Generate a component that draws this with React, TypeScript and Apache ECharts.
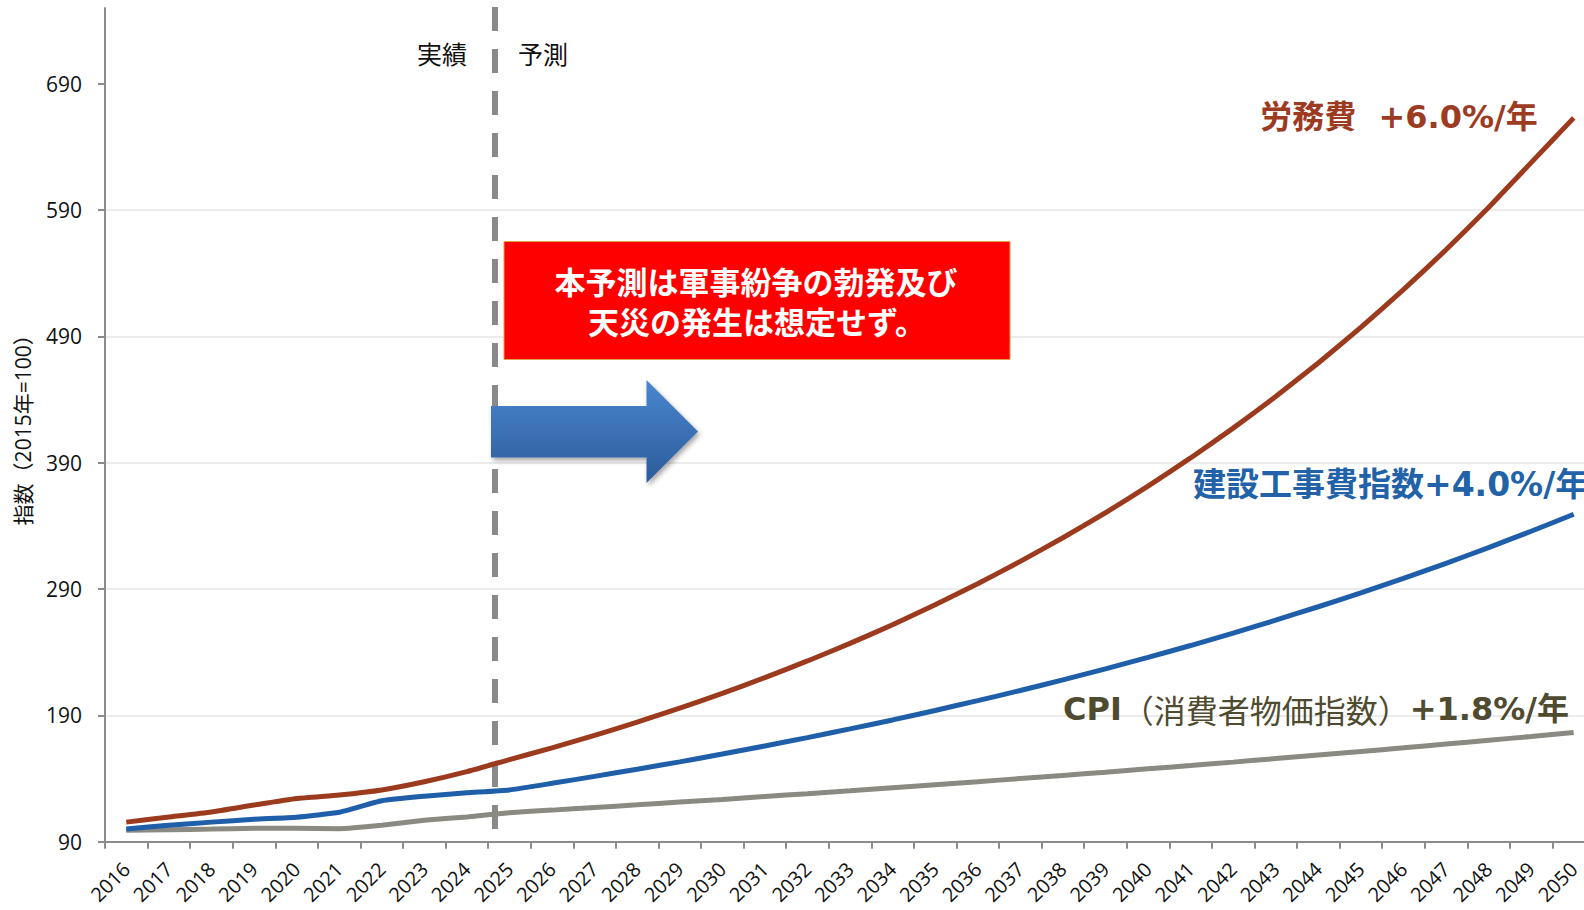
import React, { useEffect, useRef } from "react";
import * as echarts from "echarts";

const years = [
  "2016", "2017", "2018", "2019", "2020", "2021", "2022", "2023", "2024", "2025",
  "2026", "2027", "2028", "2029", "2030", "2031", "2032", "2033", "2034", "2035",
  "2036", "2037", "2038", "2039", "2040", "2041", "2042", "2043", "2044", "2045",
  "2046", "2047", "2048", "2049", "2050",
];

// 労務費 (+6.0%/年)
const laborCost = [
  105.5, 109.5, 113.5, 119, 124.2, 127, 131, 137.5, 145.5, 155,
  164.3, 174.2, 184.6, 195.7, 207.4, 219.9, 233.1, 247.0, 261.8, 277.6,
  294.2, 311.9, 330.6, 350.4, 371.5, 393.8, 417.4, 442.4, 469.0, 497.1,
  527.0, 558.6, 592.1, 627.6, 663.0,
];

// 建設工事費指数 (+4.0%/年)
const constructionCost = [
  100, 103, 105.5, 107.8, 109.4, 113.3, 122.4, 126, 128.7, 131,
  136.2, 141.7, 147.4, 153.2, 159.4, 165.8, 172.4, 179.3, 186.4, 193.9,
  201.7, 209.7, 218.1, 226.8, 235.9, 245.3, 255.1, 265.4, 276.0, 287.0,
  298.5, 310.4, 322.8, 335.8, 349.2,
];

// CPI (+1.8%/年)
const cpi = [
  99, 99.5, 100, 100.6, 100.6, 100.3, 103, 107, 109.6, 113,
  115.0, 117.1, 119.2, 121.4, 123.5, 125.8, 128.0, 130.3, 132.7, 135.1,
  137.5, 140.0, 142.5, 145.0, 147.7, 150.3, 153.0, 155.8, 158.6, 161.4,
  164.3, 167.3, 170.3, 173.3, 176.5,
];

const yTicks = [90, 190, 290, 390, 490, 590, 690];

const AX = "#8c8c8c";
const LAT = "'Open Sans', 'Noto Sans CJK JP', sans-serif";
const LBL = "'DejaVu Sans', 'Noto Sans CJK JP', sans-serif";
const CJK = "'Noto Sans CJK JP', sans-serif";

export default function App() {
  const ref = useRef<HTMLDivElement>(null);

  useEffect(() => {
    if (!ref.current) return;
    const chart = echarts.init(ref.current, null, { renderer: "svg" });
    const line = (name: string, data: number[], color: string, z: number) => ({
      name,
      type: "line",
      data,
      symbol: "none",
      smooth: 0.15,
      z,
      lineStyle: { color, width: 5 },
      itemStyle: { color },
    });
    const centered = (text: string, x: number, y: number, font: string, fill: string) => ({
      type: "text",
      z: 11,
      style: {
        text,
        x,
        y,
        textAlign: "center",
        textVerticalAlign: "middle",
        align: "center",
        verticalAlign: "middle",
        fill,
        font,
      },
    });
    chart.setOption({
      animation: false,
      backgroundColor: "#ffffff",
      grid: {
        left: 105,
        top: 8,
        width: 1490,
        bottom: 68.3,
        containLabel: false,
        outerBoundsMode: "none",
      },
      xAxis: {
        type: "category",
        data: years,
        boundaryGap: true,
        axisLine: { lineStyle: { color: AX, width: 2 } },
        axisTick: { show: true, length: 7, lineStyle: { color: AX, width: 2 } },
        axisLabel: {
          interval: 0,
          rotate: 45,
          fontSize: 20,
          margin: 24,
          color: "#111",
          fontFamily: LAT,
        },
        splitLine: { show: false },
      },
      yAxis: {
        type: "value",
        min: 90,
        max: 750,
        interval: 100,
        name: "指数（2015年=100）",
        nameLocation: "middle",
        nameRotate: 90,
        nameGap: 72,
        nameTextStyle: { fontSize: 21, color: "#111", fontFamily: LAT },
        axisLine: { show: true, lineStyle: { color: AX, width: 2 } },
        axisTick: {
          show: true,
          length: 7,
          lineStyle: { color: AX, width: 2 },
          customValues: yTicks,
        },
        axisLabel: {
          customValues: yTicks,
          fontSize: 21,
          margin: 23,
          color: "#111",
          fontFamily: LAT,
        },
        splitLine: { lineStyle: { color: "#e6e6e6", width: 1.5 }, showMaxLine: false },
      },
      series: [
        line("CPI", cpi, "#8a8a82", 3),
        line("建設工事費指数", constructionCost, "#1f5ea8", 4),
        line("労務費", laborCost, "#9c3a1e", 5),
      ],
      graphic: [
        {
          type: "line",
          z: 1,
          shape: { x1: 495, y1: 7, x2: 495, y2: 840 },
          style: { stroke: "#8a8a8a", lineWidth: 6, lineDash: [24, 18] },
        },
        centered("実績", 442, 53, `25px ${CJK}`, "#111"),
        centered("予測", 543, 53, `25px ${CJK}`, "#111"),
        {
          type: "rect",
          z: 10,
          shape: { x: 504, y: 241.5, width: 506, height: 118 },
          style: { fill: "#ff0000", stroke: "#d9a441", lineWidth: 1 },
        },
        centered("本予測は軍事紛争の勃発及び", 756, 280, `bold 31px ${CJK}`, "#ffffff"),
        centered("天災の発生は想定せず。", 757, 320, `bold 31px ${CJK}`, "#ffffff"),
        {
          type: "polygon",
          z: 10,
          shape: {
            points: [
              [491, 406],
              [646.5, 406],
              [646.5, 380],
              [698, 431.5],
              [646.5, 483],
              [646.5, 457.5],
              [491, 457.5],
            ],
          },
          style: {
            fill: new echarts.graphic.LinearGradient(0, 0, 0, 1, [
              { offset: 0, color: "#4a86cf" },
              { offset: 1, color: "#2c5b9a" },
            ]),
            shadowBlur: 5,
            shadowOffsetX: 2,
            shadowOffsetY: 3,
            shadowColor: "rgba(0,0,0,0.35)",
          },
        },
        centered("労務費  +6.0%/年", 1399, 117, `bold 32px ${LBL}`, "#9c3b1f"),
        {
          type: "text",
          z: 12,
          style: {
            text: "建設工事費指数+4.0%/年",
            x: 1193,
            y: 484,
            textAlign: "left",
            textVerticalAlign: "middle",
            align: "left",
            verticalAlign: "middle",
            fill: "#2262a8",
            font: `bold 33px ${LBL}`,
          },
        },
        {
          type: "text",
          z: 12,
          style: {
            text: "{b|CPI}{n|（消費者物価指数）}{b|+1.8%/年}",
            x: 1316,
            y: 709,
            textAlign: "center",
            textVerticalAlign: "middle",
            align: "center",
            verticalAlign: "middle",
            fill: "#4f4b30",
            rich: {
              b: { fontFamily: LBL, fontWeight: "bold", fontSize: 32, fill: "#4f4b30", color: "#4f4b30" },
              n: { fontFamily: CJK, fontWeight: "normal", fontSize: 32, fill: "#4f4b30", color: "#4f4b30" },
            },
          },
        },
      ],
    });
    return () => chart.dispose();
  }, []);

  return (
    <div
      ref={ref}
      style={{ position: "fixed", left: 0, top: 0, width: 1584, height: 910, background: "#fff" }}
    />
  );
}
